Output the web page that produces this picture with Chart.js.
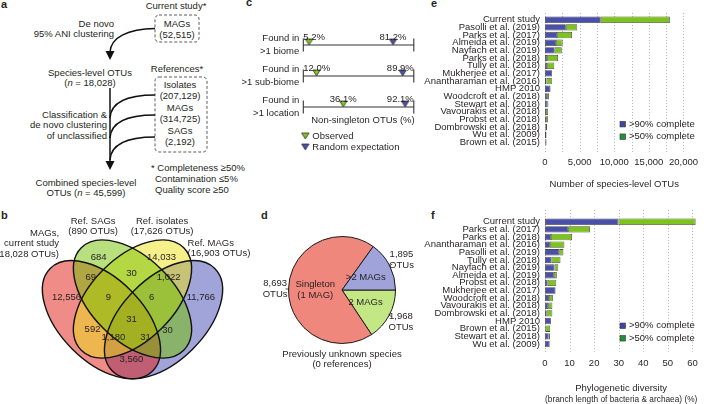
<!DOCTYPE html>
<html>
<head>
<meta charset="utf-8">
<title>Species-level OTUs</title>
<script src="https://cdn.jsdelivr.net/npm/chart.js@4.4.1/dist/chart.umd.min.js"></script>
<style>
  html, body { margin: 0; padding: 0; background: #fff; overflow: hidden; }
  #fig { position: relative; width: 708px; height: 404px; overflow: hidden; }
  #fig svg, #fig canvas { position: absolute; }
  svg text { font-family: "Liberation Sans", Arial, sans-serif; font-size: 9.5px; fill: #231f20; dominant-baseline: central; }
  svg text.tag { font-weight: bold; font-size: 11px; dominant-baseline: auto; }
</style>
</head>
<body>
<div id="fig">
  <svg width="708" height="404" style="left:0;top:0">
    <text class="tag" x="1" y="8">a</text>
    <text class="tag" x="1" y="219">b</text>
    <text class="tag" x="246" y="6">c</text>
    <text class="tag" x="261" y="219">d</text>
    <text class="tag" x="431" y="7">e</text>
    <text class="tag" x="431" y="219">f</text>

    <!-- panel a: workflow -->
    <text x="176" y="5" text-anchor="middle">Current study*</text>
    <rect x="155" y="15" width="44" height="27" rx="4" fill="none" stroke="#333" stroke-width="0.8" stroke-dasharray="3,2"/>
    <text x="177" y="23" text-anchor="middle">MAGs</text>
    <text x="177" y="34" text-anchor="middle">(52,515)</text>
    <text x="114" y="23" text-anchor="end">De novo</text>
    <text x="114" y="33" text-anchor="end">95% ANI clustering</text>
    <path d="M155,28.5 C128,29 111,37 110,52" fill="none" stroke="#111" stroke-width="1.5"/>
    <polygon points="105.5,51 114.5,51 110,60" fill="#111"/>
    <text x="90" y="72" text-anchor="middle">Species-level OTUs</text>
    <text x="90" y="82" text-anchor="middle">(<tspan font-style="italic">n</tspan> = 18,028)</text>

    <text x="177" y="68" text-anchor="middle">References*</text>
    <rect x="155" y="77" width="52" height="75" rx="4" fill="none" stroke="#333" stroke-width="0.8" stroke-dasharray="3,2"/>
    <text x="180" y="84" text-anchor="middle">Isolates</text>
    <text x="180" y="95" text-anchor="middle">(207,129)</text>
    <text x="180" y="107" text-anchor="middle">MAGs</text>
    <text x="180" y="118" text-anchor="middle">(314,725)</text>
    <text x="180" y="130" text-anchor="middle">SAGs</text>
    <text x="180" y="141" text-anchor="middle">(2,192)</text>

    <line x1="110" y1="88" x2="110" y2="162" stroke="#111" stroke-width="1.5"/>
    <polygon points="105.5,161 114.5,161 110,170" fill="#111"/>
    <path d="M155,95 C128,95 111,101 110,118" fill="none" stroke="#111" stroke-width="1.5"/>
    <path d="M155,115 C128,115 111,121 110,138" fill="none" stroke="#111" stroke-width="1.5"/>
    <path d="M155,137 C128,137 111,143 110,160" fill="none" stroke="#111" stroke-width="1.5"/>
    <text x="107" y="114" text-anchor="end">Classification &amp;</text>
    <text x="107" y="124" text-anchor="end">de novo clustering</text>
    <text x="107" y="135" text-anchor="end">of unclassified</text>

    <text x="151" y="167">* Completeness ≥50%</text>
    <text x="155" y="178">Contamination ≤5%</text>
    <text x="155" y="189">Quality score ≥50</text>
    <text x="86" y="182" text-anchor="middle">Combined species-level</text>
    <text x="86" y="192" text-anchor="middle">OTUs (<tspan font-style="italic">n</tspan> = 45,599)</text>
  </svg>
  <canvas id="venn" width="250" height="204" style="left:0;top:200px"></canvas>
  <canvas id="share" width="205" height="150" style="left:230px;top:10px"></canvas>
  <canvas id="pie" width="170" height="150" style="left:262px;top:225px"></canvas>
  <canvas id="otus" width="288" height="192" style="left:420px;top:5px"></canvas>
  <canvas id="pd" width="288" height="200" style="left:420px;top:205px"></canvas>
</div>
<script>
// ---- data ----
// b: Venn of species-level OTUs (M = MAGs current study, S = ref SAGs, I = ref isolates, R = ref MAGs)
var vennSetNames = [['MAGs,', 'current study'], ['Ref. SAGs'], ['Ref. isolates'], ['Ref. MAGs']];
var vennSetSizes = [18028, 890, 17626, 16903];
var vennRegions = ['M', 'S', 'I', 'R', 'MS', 'SI', 'IR', 'MSI', 'SIR', 'MSIR', 'MI', 'MIR', 'MSR', 'SR', 'MR'];
var vennCounts = [12556, 684, 14033, 11766, 69, 30, 1022, 9, 6, 31, 592, 1180, 31, 30, 3560];

// c: non-singleton OTUs found in >1 ...
var spreadRows = ['biome', 'sub-biome', 'location'];
var observedPct = [5.2, 12.0, 36.1];
var randomPct = [81.2, 89.9, 92.1];

// d: previously unknown species
var pieGroups = [['2 MAGs'], ['Singleton', '(1 MAG)'], ['>2 MAGs']];
var pieOtus = [1968, 8693, 1895];

// e: number of species-level OTUs
var otuStudies = ['Current study', 'Pasolli et al. (2019)', 'Parks et al. (2017)', 'Almeida et al. (2019)',
  'Nayfach et al. (2019)', 'Parks et al. (2018)', 'Tully et al. (2018)', 'Mukherjee et al. (2017)',
  'Anantharaman et al. (2016)', 'HMP 2010', 'Woodcroft et al. (2018)', 'Stewart et al. (2018)',
  'Vavourakis et al. (2018)', 'Probst et al. (2018)', 'Dombrowski et al. (2018)', 'Wu et al. (2009)',
  'Brown et al. (2015)'];
var otu90 = [8050, 3010, 1750, 1610, 1400, 310, 310, 1030, 220, 800, 310, 330, 130, 130, 90, 220, 40];
var otu50 = [9980, 1650, 2150, 940, 1020, 1570, 1030, null, 760, null, 270, 160, 320, 320, 220, null, 180];
var otuTicks = [0, 5000, 10000, 15000, 20000];

// f: phylogenetic diversity (%)
var pdStudies = ['Current study', 'Parks et al. (2017)', 'Parks et al. (2018)', 'Anantharaman et al. (2016)',
  'Pasolli et al. (2019)', 'Tully et al. (2018)', 'Nayfach et al. (2019)', 'Almeida et al. (2019)',
  'Probst et al. (2018)', 'Mukherjee et al. (2017)', 'Woodcroft et al. (2018)', 'Vavourakis et al. (2018)',
  'Dombrowski et al. (2018)', 'HMP 2010', 'Brown et al. (2015)', 'Stewart et al. (2018)', 'Wu et al. (2009)'];
var pd90 = [29.9, 9.4, 2.4, 2.0, 5.8, 2.7, 3.9, 3.6, 1.1, 4.3, 1.6, 1.3, 0.7, 2.4, 0.1, 1.5, 1.9];
var pd50 = [31.4, 8.9, 8.6, 5.9, 1.7, 3.6, 1.5, 1.2, 3.5, null, 1.6, 1.7, 2.3, null, 2.0, 0.5, null];
var pdTicks = [0, 10, 20, 30, 40, 50, 60];

// ---- look ----
var FAMILY = '"Liberation Sans", Arial, Helvetica, sans-serif';
var FS = 9.5;
var FONT = FS + 'px ' + FAMILY;
var INK = '#231f20';
var BAR_BLUE = '#4a4fa9', BAR_GREEN = '#7dc31d', BAR_EDGE = '#4a4a4a';
var KEY_BLUE = '#3d46a8', KEY_GREEN = '#22903a';

Chart.defaults.font.family = FAMILY;
Chart.defaults.font.size = FS;
Chart.defaults.color = INK;
Chart.defaults.animation = false;
Chart.defaults.plugins.legend.display = false;
Chart.defaults.plugins.tooltip.enabled = false;

// venn geometry in VennDiagram units (4-set ellipse layout)
var vennShapes = [
  { cx: 0.35, cy: 0.47, rot: 45, color: '#df1a10' },
  { cx: 0.50, cy: 0.57, rot: 45, color: '#71c100' },
  { cx: 0.50, cy: 0.57, rot: -45, color: '#ebe215' },
  { cx: 0.65, cy: 0.47, rot: -45, color: '#4349b1' }
];
var vennLabelAt = {
  M: [0.181, 0.58], S: [0.336, 0.773], I: [0.64, 0.773], R: [0.83, 0.58],
  MS: [0.298, 0.676], SI: [0.495, 0.696], IR: [0.675, 0.676], MSI: [0.384, 0.58],
  SIR: [0.592, 0.58], MSIR: [0.495, 0.473], MI: [0.307, 0.425], MIR: [0.408, 0.386],
  MSR: [0.563, 0.386], SR: [0.669, 0.42], MR: [0.495, 0.28]
};
var vennSetAt = [
  { x: 0.145, y: 0.889, align: 'right' },
  { x: 0.31, y: 0.947, align: 'center' },
  { x: 0.643, y: 0.947, align: 'center' },
  { x: 0.766, y: 0.84, align: 'left' }
];

function fmt(n) { return n.toLocaleString('en-US'); }

// ---- b: venn ----
var vennDraw = {
  id: 'vennDraw',
  beforeDatasetsDraw: function(chart) {
    var ctx = chart.ctx, x = chart.scales.x, y = chart.scales.y;
    var unit = x.getPixelForValue(1) - x.getPixelForValue(0);
    function path(e) {
      ctx.beginPath();
      ctx.ellipse(x.getPixelForValue(e.cx), y.getPixelForValue(e.cy), 0.35 * unit, 0.2 * unit,
        e.rot * Math.PI / 180, 0, Math.PI * 2);
    }
    ctx.save();
    ctx.globalAlpha = 0.5;
    [3, 0, 2, 1].forEach(function(i) {
      path(vennShapes[i]);
      ctx.fillStyle = vennShapes[i].color;
      ctx.fill();
    });
    ctx.globalAlpha = 1;
    ctx.strokeStyle = '#111';
    ctx.lineWidth = 1.4;
    vennShapes.forEach(function(e) { path(e); ctx.stroke(); });
    ctx.restore();
  },
  afterDatasetsDraw: function(chart) {
    var ctx = chart.ctx, x = chart.scales.x, y = chart.scales.y;
    ctx.save();
    ctx.font = FONT;
    ctx.fillStyle = INK;
    ctx.textBaseline = 'middle';
    ctx.textAlign = 'center';
    chart.getDatasetMeta(0).data.forEach(function(pt, i) {
      ctx.fillText(fmt(vennCounts[i]), pt.x, pt.y);
    });
    vennSetNames.forEach(function(name, i) {
      var lines = name.concat(['(' + fmt(vennSetSizes[i]) + ' OTUs)']);
      var at = vennSetAt[i];
      ctx.textAlign = at.align;
      lines.forEach(function(s, k) {
        ctx.fillText(s, x.getPixelForValue(at.x), y.getPixelForValue(at.y) + k * 10.5);
      });
    });
    ctx.restore();
  }
};

new Chart(document.getElementById('venn'), {
  type: 'scatter',
  data: {
    datasets: [{
      data: vennRegions.map(function(r) { return { x: vennLabelAt[r][0], y: vennLabelAt[r][1] }; }),
      pointRadius: 0
    }]
  },
  options: {
    responsive: false,
    layout: { padding: { left: 29, right: 14, top: 10, bottom: 7.7 } },
    scales: {
      x: { type: 'linear', min: 0, max: 1, display: false },
      y: { type: 'linear', min: 0.1, max: 1, display: false }
    }
  },
  plugins: [vennDraw]
});

// ---- c: spread of OTUs ----
function triangle(fill) {
  var c = document.createElement('canvas');
  c.width = 9; c.height = 14;
  var g = c.getContext('2d');
  g.beginPath();
  g.moveTo(0.8, 1); g.lineTo(8.2, 1); g.lineTo(4.5, 7); g.closePath();
  g.fillStyle = fill; g.fill();
  g.strokeStyle = '#333'; g.lineWidth = 0.8; g.stroke();
  return c;
}
var triGreen = triangle(BAR_GREEN), triBlue = triangle(BAR_BLUE);

var shareText = {
  id: 'shareText',
  afterDatasetsDraw: function(chart) {
    var ctx = chart.ctx, a = chart.chartArea;
    ctx.save();
    ctx.font = FONT;
    ctx.fillStyle = INK;
    ctx.textBaseline = 'middle';
    ctx.textAlign = 'center';
    [0, 1].forEach(function(d) {
      chart.getDatasetMeta(d).data.forEach(function(pt, i) {
        var s = chart.data.datasets[d].data[i].x.toFixed(1) + '%';
        var w = ctx.measureText(s).width;
        var px = Math.min(Math.max(pt.x, a.left + w / 2), a.right - w / 2);
        ctx.fillText(s, px, pt.y - 8);
      });
    });
    ctx.fillText('Non-singleton OTUs (%)', a.left + (a.right - a.left) * 0.54, a.bottom + 13);
    ctx.textAlign = 'left';
    [[triGreen, 'Observed'], [triBlue, 'Random expectation']].forEach(function(it, k) {
      var cy = a.bottom + 29 + k * 11;
      ctx.drawImage(it[0], a.left - 2.5, cy - 4);
      ctx.fillText(it[1], a.left + 9, cy);
    });
    ctx.restore();
  }
};

var rowLines = spreadRows.map(function(r) {
  return {
    type: 'line',
    data: [{ x: 0, y: r }, { x: 100, y: r }],
    borderColor: '#333', borderWidth: 1.1,
    pointStyle: 'line', rotation: 90, pointRadius: 6.5,
    pointBorderColor: '#333', pointBorderWidth: 1.1,
    clip: false
  };
});

new Chart(document.getElementById('share'), {
  type: 'scatter',
  data: {
    datasets: [
      { label: 'Observed', data: observedPct.map(function(v, i) { return { x: v, y: spreadRows[i] }; }),
        pointStyle: triGreen, clip: false },
      { label: 'Random expectation', data: randomPct.map(function(v, i) { return { x: v, y: spreadRows[i] }; }),
        pointStyle: triBlue, clip: false }
    ].concat(rowLines)
  },
  options: {
    responsive: false,
    layout: { padding: { left: 0, right: 21.2, top: 35, bottom: 53 } },
    scales: {
      x: { type: 'linear', min: 0, max: 100, display: false },
      y: {
        type: 'category', labels: spreadRows, offset: false,
        grid: { display: false, drawTicks: false }, border: { display: false },
        ticks: {
          padding: 4, autoSkip: false, font: { lineHeight: 1.3 },
          callback: function(v, i) { return ['Found in', '>1 ' + spreadRows[i]]; }
        },
        afterFit: function(s) { s.width = 73.3; }
      }
    }
  },
  plugins: [shareText]
});

// ---- d: pie ----
var pieText = {
  id: 'pieText',
  afterDatasetsDraw: function(chart) {
    var ctx = chart.ctx, a = chart.chartArea;
    ctx.save();
    ctx.font = FONT;
    ctx.fillStyle = INK;
    ctx.strokeStyle = '#333';
    ctx.lineWidth = 0.8;
    ctx.textAlign = 'center';
    ctx.textBaseline = 'middle';
    chart.getDatasetMeta(0).data.forEach(function(arc, i) {
      var p = arc.tooltipPosition();
      var inner = pieGroups[i];
      inner.forEach(function(s, k) { ctx.fillText(s, p.x, p.y + (k - (inner.length - 1) / 2) * 11); });
      var mid = (arc.startAngle + arc.endAngle) / 2, r = arc.outerRadius;
      var ox = arc.x + Math.cos(mid) * r * 1.25, oy = arc.y + Math.sin(mid) * r * 1.25;
      [fmt(pieOtus[i]), 'OTUs'].forEach(function(s, k) { ctx.fillText(s, ox, oy + (k - 0.5) * 11); });
      ctx.beginPath();
      ctx.moveTo(arc.x + Math.cos(mid) * (r - 1), arc.y + Math.sin(mid) * (r - 1));
      ctx.lineTo(arc.x + Math.cos(mid) * (r + 3), arc.y + Math.sin(mid) * (r + 3));
      ctx.stroke();
    });
    var cx = (a.left + a.right) / 2;
    ctx.fillText('Previously unknown species', cx, a.bottom + 10);
    ctx.fillText('(0 references)', cx, a.bottom + 20.5);
    ctx.restore();
  }
};

new Chart(document.getElementById('pie'), {
  type: 'pie',
  data: {
    labels: pieGroups.map(function(g) { return g.join(' '); }),
    datasets: [{
      data: pieOtus,
      backgroundColor: ['#c4e786', '#f0877d', '#9fa3d9'],
      borderColor: '#1a1a1a', borderWidth: 1
    }]
  },
  options: {
    responsive: false,
    rotation: 90,
    layout: { padding: { left: 26, right: 36, top: 11, bottom: 31 } }
  },
  plugins: [pieText]
});

// ---- e, f: stacked bars per study ----
var dotGrid = {
  id: 'dotGrid',
  beforeDatasetsDraw: function(chart, args, o) {
    var ctx = chart.ctx, a = chart.chartArea, x = chart.scales.x;
    ctx.save();
    ctx.strokeStyle = '#a0a0a0';
    ctx.lineWidth = 0.8;
    ctx.setLineDash([1, 2]);
    x.ticks.forEach(function(t) {
      var px = Math.round(x.getPixelForValue(t.value)) + 0.5;
      ctx.beginPath();
      ctx.moveTo(px, a.top - o.above);
      ctx.lineTo(px, a.bottom + o.below);
      ctx.stroke();
    });
    ctx.restore();
  }
};

var boxLegend = {
  id: 'boxLegend',
  afterDraw: function(chart) {
    var ctx = chart.ctx, a = chart.chartArea;
    ctx.save();
    ctx.font = FONT;
    ctx.textBaseline = 'middle';
    [[KEY_BLUE, chart.data.datasets[0].label], [KEY_GREEN, chart.data.datasets[1].label]].forEach(function(it, k) {
      var bx = a.left + 75, cy = a.bottom - 22 + k * 12.5;
      ctx.fillStyle = it[0];
      ctx.fillRect(bx, cy - 2.75, 5.5, 5.5);
      ctx.strokeStyle = '#333';
      ctx.lineWidth = 0.6;
      ctx.strokeRect(bx, cy - 2.75, 5.5, 5.5);
      ctx.fillStyle = INK;
      ctx.fillText(it[1], bx + 9, cy);
    });
    ctx.restore();
  }
};

function studyBars(id, studies, hi, lo, cfg) {
  return new Chart(document.getElementById(id), {
    type: 'bar',
    data: {
      labels: studies,
      datasets: [
        { label: '>90% complete', data: hi, backgroundColor: BAR_BLUE, borderColor: BAR_EDGE,
          borderWidth: 0.8, borderSkipped: false },
        { label: '>50% complete', data: lo, backgroundColor: BAR_GREEN, borderColor: BAR_EDGE,
          borderWidth: 0.8, borderSkipped: false }
      ]
    },
    options: {
      indexAxis: 'y',
      responsive: false,
      layout: { padding: cfg.padding },
      datasets: { bar: { barPercentage: 0.84, categoryPercentage: 1 } },
      scales: {
        x: {
          stacked: true, min: 0, max: cfg.max,
          grid: { display: false, drawTicks: false }, border: { display: false },
          afterBuildTicks: function(s) { s.ticks = cfg.grid.map(function(v) { return { value: v }; }); },
          ticks: {
            padding: 10, maxRotation: 0, autoSkip: false,
            callback: function(v) { return cfg.ticks.indexOf(v) >= 0 ? fmt(v) : ''; }
          },
          title: { display: true, text: cfg.title, padding: { top: cfg.titleGap, bottom: 0 } }
        },
        y: {
          stacked: true,
          grid: { display: false, drawTicks: false }, border: { display: false },
          ticks: { autoSkip: false, padding: 5 },
          afterFit: function(s) { s.width = 125; }
        }
      },
      plugins: { dotGrid: cfg.gridExt }
    },
    plugins: [dotGrid, boxLegend]
  });
}

var otuGrid = [];
for (var g = 0; g <= 20000; g += 2500) otuGrid.push(g);

studyBars('otus', otuStudies, otu90, otu50, {
  max: 20000, grid: otuGrid, ticks: otuTicks,
  title: 'Number of species-level OTUs', titleGap: 1,
  padding: { left: 0, right: 13.7, top: 10.9, bottom: 7 },
  gridExt: { above: 3, below: 7 }
});

studyBars('pd', pdStudies, pd90, pd50, {
  max: 62, grid: pdTicks, ticks: pdTicks,
  title: ['Phylogenetic diversity', '(branch length of bacteria & archaea) (%)'], titleGap: 3,
  padding: { left: 0, right: 8.7, top: 12.9, bottom: 0 },
  gridExt: { above: 8, below: 4 }
});
</script>
</body>
</html>
